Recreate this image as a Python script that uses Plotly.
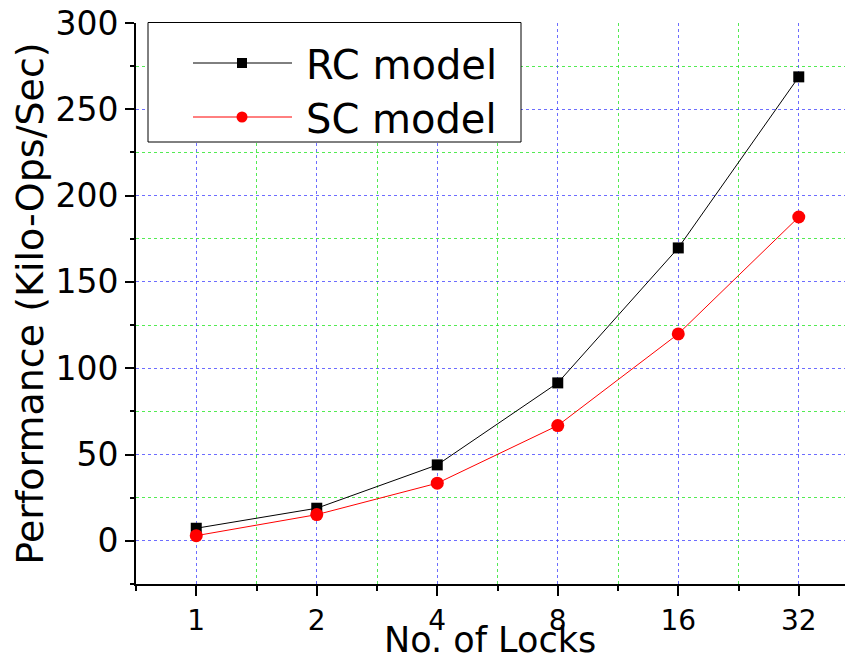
import plotly.graph_objects as go

# ---- data ----
locks = ["1", "2", "4", "8", "16", "32"]
rc_model = [7.3, 18.9, 44.0, 91.5, 169.7, 268.8]
sc_model = [3.0, 15.2, 33.4, 66.8, 119.9, 187.6]
series_names = ["RC model", "SC model"]

xpos = list(range(len(locks)))
FONT = "DejaVu Sans, Liberation Sans, Arial, sans-serif"

# the page body adds an 8px offset; margins are set so the plot lands where wanted
OFF = 8
W, H = 853, 669
ML, MR, MT, MB = 136 - OFF, OFF, 23 - OFF, 669 - (584 - OFF)
PW, PH = W - ML - MR, H - MT - MB


def px(x):  # screen pixel x -> paper x
    return (x - OFF - ML) / PW


def py(y):  # screen pixel y -> paper y
    return 1 - (y - OFF - MT) / PH


fig = go.Figure()
fig.add_trace(go.Scatter(
    x=xpos, y=rc_model, name=series_names[0], mode="lines+markers",
    line=dict(color="black", width=1),
    marker=dict(symbol="square", size=11, color="black"),
    showlegend=False,
))
fig.add_trace(go.Scatter(
    x=xpos, y=sc_model, name=series_names[1], mode="lines+markers",
    line=dict(color="#ff0000", width=1),
    marker=dict(symbol="circle", size=13, color="#ff0000"),
    showlegend=False,
))

major_grid = "rgba(60,60,255,0.75)"
minor_grid = "rgba(40,230,40,0.8)"

# ---- legend box drawn by hand ----
shapes = [
    dict(type="rect", xref="paper", yref="paper",
         x0=px(148), x1=px(521), y0=py(142), y1=py(22.5),
         line=dict(color="black", width=1), fillcolor="white", layer="above"),
]
annotations = []
legend_rows = [(63, "black", "square"), (117, "#ff0000", "circle")]
for (ry, col, sym), name in zip(legend_rows, series_names):
    shapes.append(dict(type="line", xref="paper", yref="paper",
                       x0=px(193), x1=px(292), y0=py(ry), y1=py(ry),
                       line=dict(color=col, width=1), layer="above"))
    r = 5 if sym == "square" else 5.5
    shapes.append(dict(type="rect" if sym == "square" else "circle",
                       xref="paper", yref="paper",
                       x0=px(242 - r), x1=px(242 + r), y0=py(ry + r), y1=py(ry - r),
                       line=dict(color=col, width=0), fillcolor=col, layer="above"))
    annotations.append(dict(text=name, xref="paper", yref="paper",
                            x=px(304), y=py(ry + 2), xanchor="left", yanchor="middle",
                            showarrow=False, font=dict(size=40, family=FONT, color="black")))

# x-axis title
annotations.append(dict(text="No. of Locks", xref="paper", yref="paper",
                        x=px(490), y=py(662), xanchor="center", yanchor="bottom",
                        showarrow=False, font=dict(size=35, family=FONT, color="black")))

fig.update_layout(
    width=W, height=H,
    margin=dict(l=ML, r=MR, t=MT, b=MB, autoexpand=False),
    paper_bgcolor="white", plot_bgcolor="white",
    font=dict(family=FONT, color="black"),
    showlegend=False,
    shapes=shapes,
    annotations=annotations,
    xaxis=dict(
        range=[-0.5, 5.45], automargin=False,
        tickmode="array", tickvals=xpos, ticktext=locks,
        tickfont=dict(size=28), ticklabeloverflow="allow",
        ticks="outside", ticklen=10, tickwidth=1.5, tickcolor="black",
        showline=True, linecolor="black", linewidth=2,
        showgrid=True, gridcolor=major_grid, griddash="dot", gridwidth=1,
        zeroline=False,
        minor=dict(tickmode="linear", tick0=-0.5, dtick=1, ticks="outside", ticklen=5,
                   tickcolor="black", tickwidth=1.5,
                   showgrid=True, gridcolor=minor_grid, griddash="dot", gridwidth=1),
    ),
    yaxis=dict(
        range=[-25, 300], automargin=False,
        tickmode="linear", tick0=0, dtick=50,
        tickfont=dict(size=33), ticklabeloverflow="allow",
        ticks="outside", ticklen=9, tickwidth=1.5, tickcolor="black",
        showline=True, linecolor="black", linewidth=2,
        showgrid=True, gridcolor=major_grid, griddash="dot", gridwidth=1,
        zeroline=False,
        minor=dict(tick0=-25, dtick=50, ticks="outside", ticklen=4,
                   tickcolor="black", tickwidth=1.5,
                   showgrid=True, gridcolor=minor_grid, griddash="dot", gridwidth=1),
        title=dict(text="Performance (Kilo-Ops/Sec)", font=dict(size=38), standoff=14),
    ),
)

fig.write_html("out.html")
